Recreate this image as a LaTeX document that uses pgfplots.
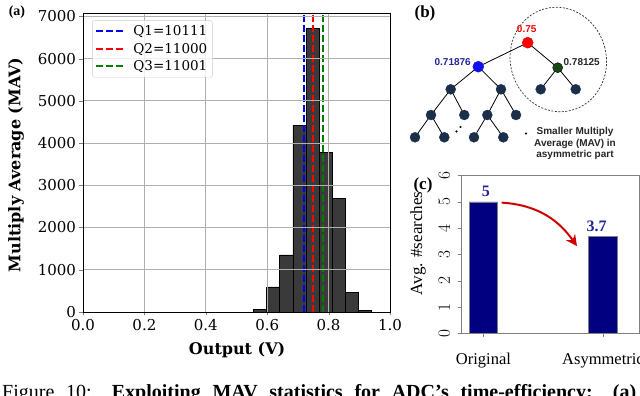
\documentclass[border=0pt]{standalone}
\usepackage{fontspec}
\setmainfont{Liberation Serif}
\newfontfamily\djs{DejaVu Serif}
\newfontfamily\las{Liberation Sans}
\usepackage{pgfplots}
\pgfplotsset{compat=1.18}
\usetikzlibrary{arrows.meta}
\definecolor{histbar}{HTML}{3A3A3A}
\definecolor{gridgray}{HTML}{B0B0B0}
\definecolor{mplgreen}{HTML}{008000}
\definecolor{treenode}{HTML}{1B2F4B}
\definecolor{treeblue}{HTML}{1010F0}
\definecolor{treegreen}{HTML}{174A17}
\definecolor{labblue}{HTML}{23239A}
\definecolor{navybar}{HTML}{000080}
\definecolor{arrowred}{HTML}{D00000}

\begin{document}
\begin{tikzpicture}
\useasboundingbox (0pt,0pt) rectangle (640pt,396pt);

% ---------- (a) histogram ----------
\begin{axis}[at={(83pt,84pt)}, anchor=south west, scale only axis,
  width=307pt, height=299pt,
  xmin=0, xmax=1, ymin=0, ymax=7080,
  xtick={0,0.2,0.4,0.6,0.8,1}, xticklabels={0.0,0.2,0.4,0.6,0.8,1.0},
  ytick={0,1000,2000,3000,4000,5000,6000,7000},
  yticklabels={0,1000,2000,3000,4000,5000,6000,7000},
  tick pos=left, tick align=outside, major tick length=3.5pt,
  grid=major, grid style={color=gridgray, line width=0.8pt},
  axis line style={black, line width=0.8pt}, axis on top,
  tick label style={font=\djs\fontsize{15}{15}\selectfont},
  xlabel={\djs\bfseries Output (V)},
  ylabel={\djs\bfseries Multiply Average (MAV)},
  label style={font=\fontsize{16}{16}\selectfont},
  xlabel style={at={(axis description cs:0.502,-0.127)}, anchor=center},
  ylabel style={at={(axis description cs:-0.218,0.492)}, anchor=center},
  legend style={at={(0.03,0.975)}, anchor=north west, draw=gray!40,
    rounded corners=2pt, fill=white, fill opacity=0.8, text opacity=1,
    font=\djs\fontsize{13.5}{13.5}\selectfont, row sep=2pt,
    inner xsep=3pt, inner ysep=3pt},
  legend cell align=left,
  legend image code/.code={\draw[#1] (0pt,0pt) -- (28pt,0pt); \path (34pt,0pt);},
  clip=false]
\addplot[ybar interval, fill=histbar, draw=black, line width=0.8pt, forget plot]
  coordinates {(0.556,60) (0.5987,593) (0.6413,1352) (0.684,4427) (0.7267,6719)
               (0.7693,3771) (0.812,2680) (0.8547,466) (0.8973,47) (0.940,0)};
\addplot[blue, line width=2pt, dash pattern=on 7pt off 3pt]
  coordinates {(0.71875,0) (0.71875,7080)};
\addplot[red, line width=2pt, dash pattern=on 7pt off 3pt]
  coordinates {(0.75,0) (0.75,7080)};
\addplot[mplgreen, line width=2pt, dash pattern=on 7pt off 3pt]
  coordinates {(0.78125,0) (0.78125,7080)};
\legend{Q1=10111, Q2=11000, Q3=11001}
\end{axis}
\node[font=\bfseries\fontsize{14}{14}\selectfont] at (17pt,384pt) {(a)};

% ---------- (b) search tree ----------
\begin{axis}[at={(400pt,226pt)}, anchor=south west, scale only axis,
  width=240pt, height=170pt, xmin=400, xmax=640, ymin=0, ymax=170,
  y dir=reverse, axis lines=none, clip=false]
\addplot[black, line width=0.8pt] coordinates {(527.7,42.7) (478.3,66.7)};
\addplot[black, line width=0.8pt] coordinates {(527.7,42.7) (557.7,67.7)};
\addplot[black, line width=0.8pt] coordinates {(450.7,89.3) (478.3,66.7) (501,89.3)};
\addplot[black, line width=0.8pt] coordinates {(540.7,89.3) (557.7,67.7) (575.7,89.3)};
\addplot[black, line width=0.8pt] coordinates {(431,115) (450.7,89.3) (464.3,115)};
\addplot[black, line width=0.8pt] coordinates {(487.3,115) (501,89.3) (516,115)};
\addplot[black, line width=0.8pt] coordinates {(415,137.3) (431,115) (444.3,137.3)};
\addplot[black, line width=0.8pt] coordinates {(474,137.3) (487.3,115) (503.3,137.3)};
\addplot[only marks, mark=*, mark size=5pt, mark options={fill=treenode, draw=treenode}]
  coordinates {(450.7,89.3) (501,89.3) (540.7,89.3) (575.7,89.3)
               (431,115) (464.3,115) (487.3,115) (516,115)
               (415,137.3) (444.3,137.3) (474,137.3) (503.3,137.3)};
\addplot[only marks, mark=*, mark size=5.5pt, mark options={fill=red, draw=red!80!black}]
  coordinates {(527.7,42.7)};
\addplot[only marks, mark=*, mark size=5.5pt, mark options={fill=treeblue, draw=treeblue}]
  coordinates {(478.3,66.7)};
\addplot[only marks, mark=*, mark size=5pt, mark options={fill=treegreen, draw=black}]
  coordinates {(557.7,67.7)};
\addplot[only marks, mark=*, mark size=0.8pt, black]
  coordinates {(456.5,131.5) (460.5,127) (526,133.5)};
\draw[black!80, line width=0.7pt, dash pattern=on 2pt off 1.5pt]
  (axis cs:558.3,59.5) ellipse [x radius=48pt, y radius=52.5pt, rotate=14];
\node[font=\bfseries\fontsize{17}{17}\selectfont] at (axis cs:425,13) {(b)};
\node[font=\las\bfseries\fontsize{10}{10}\selectfont, text=red] at (axis cs:526.7,29.3) {0.75};
\node[font=\las\bfseries\fontsize{10}{10}\selectfont, text=labblue] at (axis cs:452.7,62) {0.71876};
\node[font=\las\bfseries\fontsize{10}{10}\selectfont, text=black!85] at (axis cs:581.7,61.7) {0.78125};
\node[font=\las\bfseries\fontsize{10}{11.7}\selectfont, align=center, text=black!85]
  at (axis cs:575,143.5) {Smaller Multiply\\Average (MAV) in\\asymmetric part};
\end{axis}

% ---------- (c) average searches ----------
\begin{axis}[at={(461.5pt,62.5pt)}, anchor=south west, scale only axis,
  width=177.8pt, height=158pt,
  xmin=-0.184, xmax=1.304, ymin=0, ymax=6,
  ytick={0,1,2,3,4,5,6}, xtick={0,1}, xticklabels={Original,Asymmetric},
  ybar, bar width=28.5pt,
  tick pos=left, tick align=outside, major tick length=4pt,
  axis line style={gray, line width=0.6pt}, tick style={gray},
  tick label style={font=\fontsize{16}{16}\selectfont},
  yticklabel style={xshift=-4pt, rotate=90, anchor=south},
  xticklabel style={font=\fontsize{16.5}{16.5}\selectfont, anchor=base, yshift=-27pt},
  ylabel={Avg. \#searches},
  ylabel style={font=\fontsize{17}{17}\selectfont,
    at={(axis description cs:-0.245,0.57)}, anchor=center},
  clip=false]
\addplot[fill=navybar, draw=gray, line width=0.6pt] coordinates {(0,5) (1,3.7)};
\node[font=\bfseries\fontsize{16}{16}\selectfont, text=labblue] at (axis cs:0.021,5.41) {5};
\node[font=\bfseries\fontsize{16}{16}\selectfont, text=labblue] at (axis cs:0.947,4.08) {3.7};
\draw[arrowred, line width=2pt, -{Stealth[length=11pt, width=11pt]}]
  (axis cs:0.152,4.97) .. controls (axis cs:0.473,4.88) and (axis cs:0.64,4.23)
  .. (axis cs:0.782,3.32);
\end{axis}
\node[font=\bfseries\fontsize{17}{17}\selectfont] at (423pt,211pt) {(c)};

% ---------- caption ----------
\node[anchor=base west, inner sep=0pt, font=\fontsize{20}{20}\selectfont] at (2pt,-3pt)
  {\makebox[634pt][s]{Figure 10: \textbf{Exploiting MAV statistics for ADC's time-efficiency: (a)}}};
\end{tikzpicture}
\end{document}
